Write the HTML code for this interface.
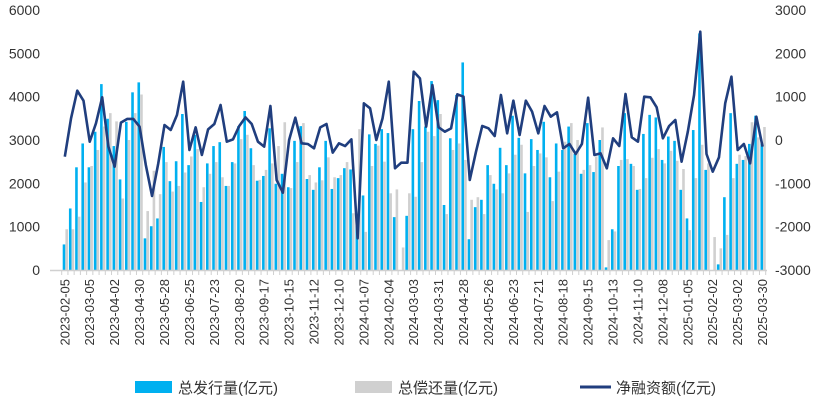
<!DOCTYPE html>
<html><head><meta charset="utf-8">
<style>
html,body{margin:0;padding:0;background:#fff;}
svg{display:block;font-family:"Liberation Sans","Noto Sans CJK SC",sans-serif;}
</style></head>
<body>
<svg id="chart" width="827" height="414" viewBox="0 0 827 414">
<g id="plot"></g>
<g id="legend">
  <rect x="135" y="381" width="37" height="12" fill="#00b0f0"/>
  <text x="178" y="393" font-size="15" fill="#333">总发行量(亿元)</text>
  <rect x="355" y="381" width="37" height="12" fill="#d0d0d0"/>
  <text x="398" y="393" font-size="15" fill="#333">总偿还量(亿元)</text>
  <line x1="580" y1="387" x2="611" y2="387" stroke="#203e7e" stroke-width="3"/>
  <text x="616" y="393" font-size="15" fill="#333">净融资额(亿元)</text>
</g>
</svg>
<script>
const issuance=[590,1420,2370,2920,2370,3190,4290,3490,2860,2090,3420,4100,4330,730,1010,1190,2840,2050,2510,
3600,2420,3120,1570,2460,2860,2950,1940,2490,3320,3670,2810,2060,2170,3270,1990,2220,1910,2980,
3320,2100,1850,2370,2980,1870,2120,2350,2320,1020,1720,3130,2910,3250,3160,1220,0,1250,3250,3900,
3310,4360,3920,1500,3040,4040,4790,710,1450,1620,2420,1990,2820,2420,3560,3050,2230,3020,2770,
3420,2140,2920,2770,3310,2680,2220,3390,2260,3000,60,940,2400,3620,2450,1850,3140,3580,3520,
2540,3080,2980,1850,1190,3230,5460,2310,0,130,1680,3620,2450,2540,2910,3560,2920];
const repayment=[940,940,1230,2020,2400,2770,3310,3620,3430,1650,3000,3620,4050,1360,2290,1750,2490,1810,1940,
2250,2620,2790,1910,2220,2490,2140,1940,2460,3020,3120,2420,2080,2310,2460,2860,3410,1890,2490,
3390,2190,2020,2070,2600,2140,2190,2490,1310,3250,880,2400,2870,2500,1770,1860,520,1770,1690,2490,
3190,3090,3600,1290,2770,2920,2540,1620,1680,1290,2190,1860,1770,2230,2660,2890,1340,2400,2690,
2600,1590,2270,2960,3390,3000,2310,2420,2620,3290,690,890,2540,2560,2400,1870,2120,2590,2790,
2460,2750,2520,2330,920,2120,2890,2460,760,500,810,2120,2660,2630,3410,3060,3300];
const netFin=[-385,500,1139,908,-39,385,985,-154,-616,400,485,485,308,-577,-1292,-539,346,231,577,
1346,-231,292,-346,246,369,808,-39,15,323,523,369,-39,-154,785,-923,-1216,0,515,
-77,-92,-192,292,369,-292,-77,-139,15,-2269,846,731,0,500,1346,-654,-523,-523,1577,1423,
308,1269,292,192,269,1054,1000,-923,-269,323,269,92,1039,154,908,115,908,654,154,
785,538,638,-192,-92,-323,-92,977,-346,-308,-654,38,-139,1062,61,-39,1000,985,754,
38,323,462,-500,192,1039,2500,-323,-731,-400,846,1462,-231,-92,-539,538,-154];
const leftTicks=[0,1000,2000,3000,4000,5000,6000];
const rightTicks=[-3000,-2000,-1000,0,1000,2000,3000];
const startDate=new Date(Date.UTC(2023,1,5));

const NS="http://www.w3.org/2000/svg";
const plot=document.getElementById('plot');
const X0=61.7, STEP=6.23, Y0=270, Y1=10;
const yL=v=>Y0-(v/6000)*(Y0-Y1);
const yR=v=>Y0-((v+3000)/6000)*(Y0-Y1);
const xCat=i=>X0+i*STEP;
function mk(tag,attrs){const e=document.createElementNS(NS,tag);for(const k in attrs)e.setAttribute(k,attrs[k]);plot.appendChild(e);return e;}

// axis labels
leftTicks.forEach(v=>{
  const t=mk('text',{x:40,y:yL(v)+5,'text-anchor':'end','font-size':14,fill:'#333'});
  
  
  t.textContent=v;
});
rightTicks.forEach(v=>{
  const t=mk('text',{x:775,y:yR(v)+5,'text-anchor':'start','font-size':14,fill:'#333'});
  
  
  t.textContent=v;
});

// bars
const n=issuance.length;
for(let i=0;i<n;i++){
  const b=mk('rect',{x:xCat(i)+1,y:yL(issuance[i]),width:2.6,height:Y0-yL(issuance[i]),fill:'#00b0f0'});
  
  
  const g=mk('rect',{x:xCat(i)+3.7,y:yL(repayment[i]),width:2.6,height:Y0-yL(repayment[i]),fill:'#d0d0d0'});
  
  
}

// x axis
const ax=mk('line',{x1:50,y1:Y0+0.5,x2:767,y2:Y0+0.5,stroke:'#d0d0d0','stroke-width':1.5});


for(let i=0;i<=n;i++){
  const tk=mk('line',{x1:xCat(i),y1:Y0,x2:xCat(i),y2:Y0+5,stroke:'#d0d0d0','stroke-width':1});
  
  
}
for(let i=0;i<n;i+=4){
  const d=new Date(startDate.getTime()+i*7*86400000);
  const s=d.toISOString().slice(0,10);
  const cx=xCat(i)+STEP/2+4.5, cy=279;
  const t=mk('text',{x:cx,y:cy,'text-anchor':'end','font-size':13,fill:'#333',transform:`rotate(-90 ${cx} ${cy})`});
  
  
  t.textContent=s;
}

// line
let dstr='';
for(let i=0;i<n;i++){dstr+=(i?'L':'M')+(xCat(i)+STEP/2).toFixed(2)+' '+yR(netFin[i]).toFixed(2);}
const ln=mk('path',{d:dstr,fill:'none',stroke:'#203e7e','stroke-width':2.6,'stroke-linejoin':'round'});


</script>
</body></html>
